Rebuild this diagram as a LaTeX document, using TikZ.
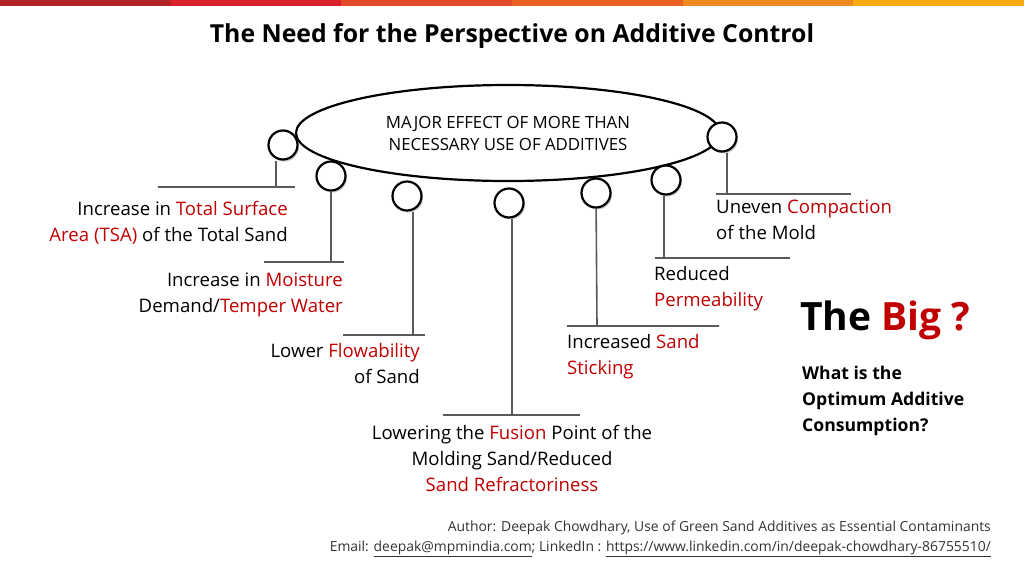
\documentclass[tikz,border=0pt]{standalone}
\usepackage{fontspec}
\setmainfont{Open Sans}
\usetikzlibrary{shadows,shapes.geometric}
\definecolor{hot}{RGB}{192,0,0}
\definecolor{stemgray}{RGB}{90,90,90}
\tikzset{
    bubble/.style={circle,draw,line width=2.2pt,minimum size=29pt,inner sep=0pt,fill=white,
        drop shadow={shadow xshift=1.5pt,shadow yshift=-2pt,fill=black!40}},
    stem/.style={stemgray,line width=1.6pt},
    txt/.style={font=\fontsize{18.6}{26}\selectfont,inner sep=0pt,align=#1},
    txt/.default=left
}
\newcommand{\hl}[1]{\textcolor{hot}{#1}}
\begin{document}
\begin{tikzpicture}[x=1pt,y=-1pt]
    \useasboundingbox (0,0) rectangle (1024,576);
    % top colour bar
    \foreach \c [count=\i from 0] in {{178,34,34},{218,32,44},{228,74,40},{236,96,36},{238,138,30},{246,170,20}}
        {\definecolor{seg}{RGB}{\c}\fill[seg] (\i*170.67,0) rectangle ({(\i+1)*170.67},6);}
    \node (title) at (512,36) {\fontsize{24.8}{28}\selectfont\bfseries The Need for the Perspective on Additive Control};

    \node[bubble] (c1) at (283,145) {};
    \node[ellipse,draw,line width=2.2pt,fill=white,minimum width=424pt,minimum height=96pt,
        font=\fontsize{16.8}{22}\selectfont,align=center] (major) at (508,133)
        {MAJOR EFFECT OF MORE THAN\\NECESSARY USE OF ADDITIVES};
    \node[bubble] (c2) at (331,176) {};
    \node[bubble] (c3) at (407,196) {};
    \node[bubble] (c4) at (509,203) {};
    \node[bubble] (c5) at (596,193) {};
    \node[bubble] (c6) at (666,180) {};
    \node[bubble] (c7) at (722,137) {};

    % stems and bars
    \coordinate (b1) at (276,187);
    \coordinate (b2) at (331,262);
    \coordinate (b3) at (413,335);
    \coordinate (b4) at (512,415);
    \coordinate (b5) at (597,326);
    \coordinate (b6) at (664,258);
    \coordinate (b7) at (727,194);
    \draw[stem] (c1.south -| b1) -- (b1) (158,187) -- (295,187);
    \draw[stem] (c2) -- (b2) (264,262) -- (344,262);
    \draw[stem] (c3.south -| b3) -- (b3) (343,335) -- (425,335);
    \draw[stem] (c4.south -| b4) -- (b4) (443,415) -- (580,415);
    \draw[stem] (c5) -- (b5) (567,326) -- (719,326);
    \draw[stem] (c6.south -| b6) -- (b6) (655,258) -- (790,258);
    \draw[stem] (c7.south -| b7) -- (b7) (716,194) -- (851,194);

    % labels
    \node[txt=right,anchor=north east] (t1) at (288,201) {Increase in \hl{Total Surface}\\\hl{Area (TSA)} of the Total Sand};
    \node[txt=right,anchor=north east] (t2) at (343,273) {Increase in \hl{Moisture}\\Demand/\hl{Temper Water}};
    \node[txt=right,anchor=north east] (t3) at (420,343) {Lower \hl{Flowability}\\of Sand};
    \node[txt=center,anchor=north] (t4) at (512,425) {Lowering the \hl{Fusion} Point of the\\Molding Sand/Reduced\\\hl{Sand Refractoriness}};
    \node[txt,anchor=north west] (t5) at (567,334) {Increased \hl{Sand}\\\hl{Sticking}};
    \node[txt,anchor=north west] (t6) at (654,266) {Reduced\\\hl{Permeability}};
    \node[txt,anchor=north west] (t7) at (716,200) {Uneven \hl{Compaction}\\of the Mold};

    \node[anchor=west,inner sep=0pt,font=\fontsize{39}{48}\selectfont\bfseries] (big) at (800,320) {The \hl{Big ?}};
    \node[txt,anchor=north west,font=\fontsize{17.6}{26}\selectfont\bfseries] (ask) at (802,366)
        {What is the\\Optimum Additive\\Consumption?};

    \node[anchor=north east,inner sep=0pt,align=right,font=\fontsize{13.9}{20}\selectfont,text=black!80] (foot) at (991,521)
        {Author: Deepak Chowdhary, Use of Green Sand Additives as Essential Contaminants\\
         Email: \underline{deepak@mpmindia.com}; LinkedIn : \underline{https://www.linkedin.com/in/deepak-chowdhary-86755510/}};
\end{tikzpicture}
\end{document}
